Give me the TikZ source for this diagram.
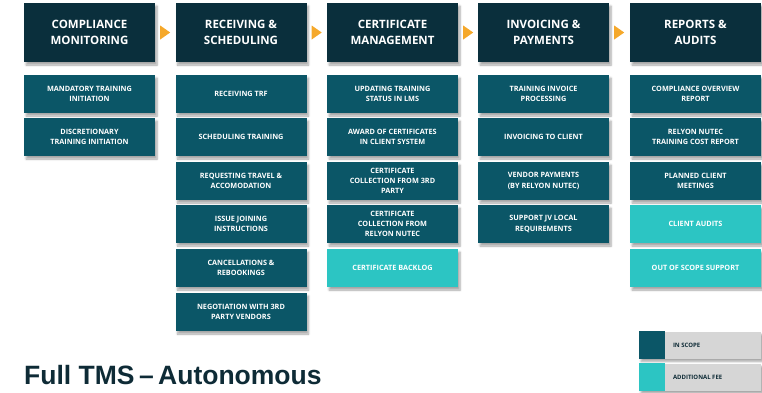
\documentclass[tikz,border=0pt]{standalone}
\usepackage{fontspec}
\setmainfont{Liberation Sans}
\newfontfamily\boxfont{Open Sans}[UprightFont=* Bold]
\usetikzlibrary{shadows.blur,calc}
\definecolor{headc}{HTML}{0A2F3C}
\definecolor{subc}{HTML}{0B5667}
\definecolor{feec}{HTML}{2CC5C3}
\definecolor{arrc}{HTML}{F5A82A}
\definecolor{legc}{HTML}{D6D6D6}
\definecolor{titc}{HTML}{0E2B36}
\begin{document}
\begin{tikzpicture}[x=1pt,y=-1pt,
  shad/.style={blur shadow={shadow xshift=2pt,shadow yshift=-3pt,shadow blur steps=6,shadow opacity=35}},
  headbox/.style={shad,fill=headc,text=white,minimum width=131pt,minimum height=59pt,inner sep=0pt,align=center,
    font=\boxfont\fontsize{11.5}{16}\selectfont},
  subbox/.style={shad,fill=subc,text=white,minimum width=131pt,minimum height=38pt,inner sep=0pt,align=center,
    font=\boxfont\fontsize{7.3}{10.3}\selectfont},
  feebox/.style={subbox,fill=feec},
  legbox/.style={shad,fill=legc,minimum width=122pt,minimum height=27pt,inner sep=0pt},
  legtext/.style={text=titc,font=\boxfont\fontsize{6}{8}\selectfont,anchor=west,inner sep=0pt},
  arrowtri/.style={fill=arrc}]
\useasboundingbox (0,0) rectangle (762,392);
% headers
\node[headbox] (h1) at (89.5,32.5) {COMPLIANCE\\MONITORING};
\node[headbox] (h2) at (241,32.5) {RECEIVING \&\\SCHEDULING};
\node[headbox] (h3) at (392.5,32.5) {CERTIFICATE\\MANAGEMENT};
\node[headbox] (h4) at (543.5,32.5) {INVOICING \&\\PAYMENTS};
\node[headbox] (h5) at (695.5,32.5) {REPORTS \&\\AUDITS};
% arrows
\foreach \a in {h1,h2,h3,h4}{
  \fill[arrowtri] ($(\a.east)+(5,-7)$) -- ($(\a.east)+(15,0)$) -- ($(\a.east)+(5,7)$) -- cycle;
}
% column 1
\node[subbox] (c1a) at (89.5,94) {MANDATORY TRAINING\\INITIATION};
\node[subbox] (c1b) at (89.5,137) {DISCRETIONARY\\TRAINING INITIATION};
% column 2
\node[subbox] (c2a) at (241,94) {RECEIVING TRF};
\node[subbox] (c2b) at (241,137) {SCHEDULING TRAINING};
\node[subbox] (c2c) at (241,181) {REQUESTING TRAVEL \&\\ACCOMODATION};
\node[subbox] (c2d) at (241,224) {ISSUE JOINING\\INSTRUCTIONS};
\node[subbox] (c2e) at (241,268) {CANCELLATIONS \&\\REBOOKINGS};
\node[subbox] (c2f) at (241,312) {NEGOTIATION WITH 3RD\\PARTY VENDORS};
% column 3
\node[subbox] (c3a) at (392.5,94) {UPDATING TRAINING\\STATUS IN LMS};
\node[subbox] (c3b) at (392.5,137) {AWARD OF CERTIFICATES\\IN CLIENT SYSTEM};
\node[subbox] (c3c) at (392.5,181) {CERTIFICATE\\COLLECTION FROM 3RD\\PARTY};
\node[subbox] (c3d) at (392.5,224) {CERTIFICATE\\COLLECTION FROM\\RELYON NUTEC};
\node[feebox] (c3e) at (392.5,268) {CERTIFICATE BACKLOG};
% column 4
\node[subbox] (c4a) at (543.5,94) {TRAINING INVOICE\\PROCESSING};
\node[subbox] (c4b) at (543.5,137) {INVOICING TO CLIENT};
\node[subbox] (c4c) at (543.5,181) {VENDOR PAYMENTS\\(BY RELYON NUTEC)};
\node[subbox] (c4d) at (543.5,224) {SUPPORT JV LOCAL\\REQUIREMENTS};
% column 5
\node[subbox] (c5a) at (695.5,94) {COMPLIANCE OVERVIEW\\REPORT};
\node[subbox] (c5b) at (695.5,137) {RELYON NUTEC\\TRAINING COST REPORT};
\node[subbox] (c5c) at (695.5,181) {PLANNED CLIENT\\MEETINGS};
\node[feebox] (c5d) at (695.5,224) {CLIENT AUDITS};
\node[feebox] (c5e) at (695.5,268) {OUT OF SCOPE SUPPORT};
% legend
\node[legbox] (l1) at (700,345) {};
\fill[subc] (l1.north west) rectangle ($(l1.south west)+(26,0)$);
\node[legtext] (l1t) at ($(l1.west)+(34,0)$) {IN SCOPE};
\node[legbox] (l2) at (700,377) {};
\fill[feec] (l2.north west) rectangle ($(l2.south west)+(26,0)$);
\node[legtext] (l2t) at ($(l2.west)+(34,0)$) {ADDITIONAL FEE};
% title
\node[anchor=base west,inner sep=0pt,text=titc,font=\bfseries\fontsize{26.5}{30}\selectfont] (title) at (24,384) {Full TMS\,–\,Autonomous};
\end{tikzpicture}
\end{document}
